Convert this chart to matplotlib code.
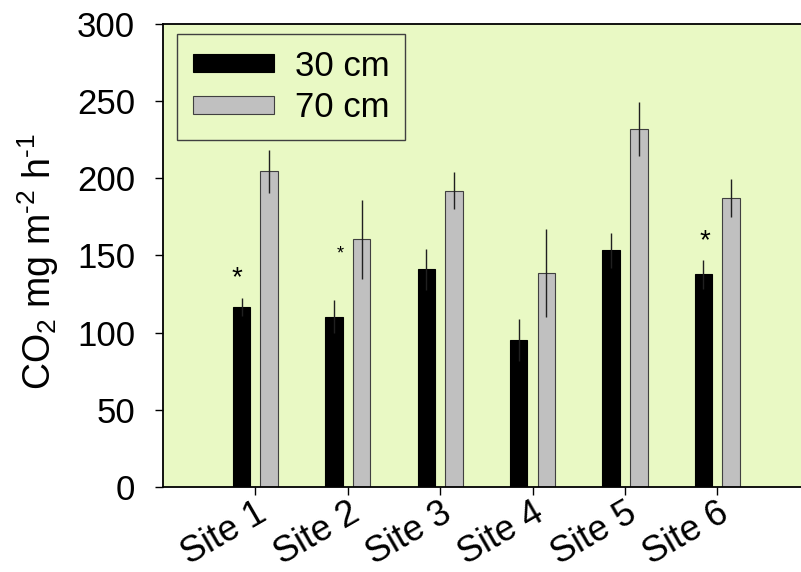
import matplotlib
matplotlib.use("Agg")
import matplotlib.pyplot as plt
import numpy as np

plt.rcParams['font.family'] = ['Liberation Sans', 'DejaVu Sans']
plt.rcParams['mathtext.fontset'] = 'custom'
plt.rcParams['mathtext.rm'] = 'Liberation Sans'
plt.rcParams['mathtext.it'] = 'Liberation Sans'
plt.rcParams['mathtext.default'] = 'regular'

sites = ["Site 1", "Site 2", "Site 3", "Site 4", "Site 5", "Site 6"]
co2_30 = [116.7, 110.3, 141.0, 95.0, 153.4, 137.7]
err_30 = [5.7, 10.8, 13.5, 13.6, 11.2, 9.5]
co2_70 = [204.5, 160.5, 192.0, 138.8, 231.9, 187.5]
err_70 = [14.0, 25.7, 12.0, 28.5, 17.7, 12.3]
star_sites = [0, 1, 5]
star_y = [135, 151, 159]
star_size = [20, 13, 20]
star_dx = [-0.05, 0.07, 0.01]

bg = '#E9F9C4'
fig = plt.figure(figsize=(8.01, 5.72), dpi=100)
ax = fig.add_axes([163/801, 85/572, 1 - 163/801 + 0.001, (487-24)/572])
ax.set_facecolor(bg)

x = np.arange(1, len(sites) + 1)
off = 0.15
w = 0.19
ax.bar(x - off, co2_30, w, color='black', edgecolor='black', linewidth=0.8,
       label='30 cm', zorder=2)
ax.bar(x + off, co2_70, w, color='#C0C0C0', edgecolor='#404040', linewidth=0.8,
       label='70 cm', zorder=2)
ax.errorbar(x - off, co2_30, yerr=err_30, fmt='none', ecolor='#202020',
            elinewidth=1.0, capsize=0, zorder=3)
ax.errorbar(x + off, co2_70, yerr=err_70, fmt='none', ecolor='#202020',
            elinewidth=1.0, capsize=0, zorder=3)

for i, yv, s, dx in zip(star_sites, star_y, star_size, star_dx):
    ax.text(x[i] - off + dx, yv, '*', ha='center', va='center', fontsize=s,
            zorder=4)

ax.set_xlim(0, 6.914)
ax.set_ylim(0, 300)
ax.set_yticks([0, 50, 100, 150, 200, 250, 300])
ax.set_xticks(x)
ax.set_xticklabels(sites, rotation=30, ha='right', va='top',
                   rotation_mode='anchor', fontsize=26)
ax.tick_params(axis='y', direction='out', length=6, width=1, labelsize=25, pad=14)
ax.tick_params(axis='x', direction='out', length=6, width=1, pad=0)

for sp in ['left', 'bottom', 'top']:
    ax.spines[sp].set_linewidth(1.3)
    ax.spines[sp].set_color('black')
ax.spines['right'].set_visible(False)

ax.set_ylabel(r'CO$_2$ mg m$^{\text{-2}}$ h$^{\text{-1}}$', fontsize=27)
ax.yaxis.set_label_coords(-0.16, 0.488)

leg = ax.legend(loc='upper left', bbox_to_anchor=(14/638, 1 - 10/463),
                fontsize=25, frameon=True, fancybox=False,
                handlelength=2.35, handleheight=0.42, handletextpad=0.6,
                borderpad=0.45, labelspacing=0.25, borderaxespad=0)
leg.get_frame().set_facecolor(bg)
leg.get_frame().set_edgecolor('#404040')
leg.get_frame().set_linewidth(1.0)
leg.get_frame().set_alpha(1)

fig.savefig('out.png', dpi=100, facecolor='white')
